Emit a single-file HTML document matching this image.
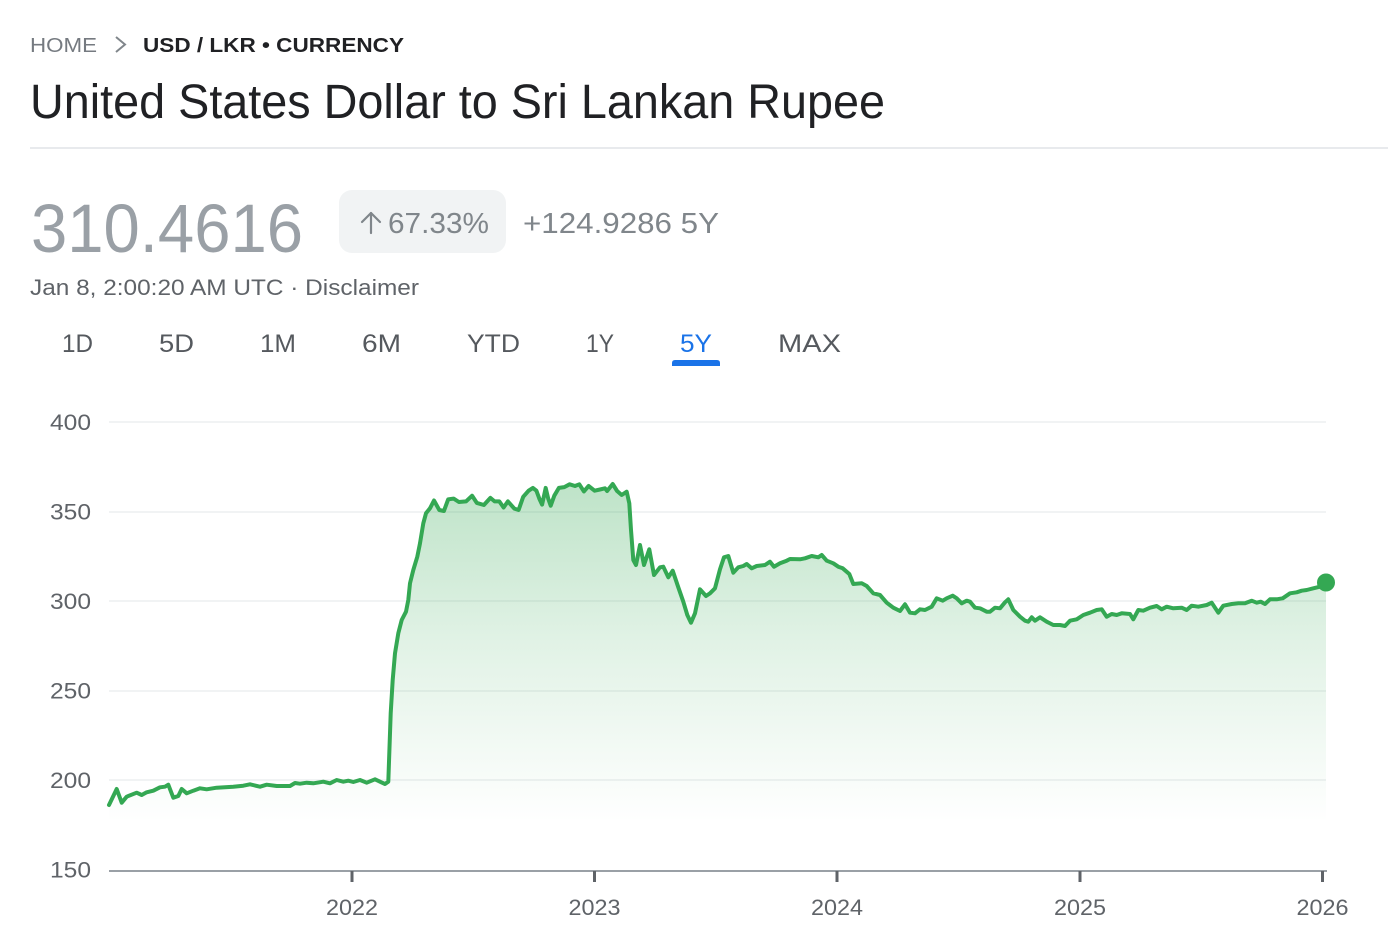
<!DOCTYPE html>
<html>
<head>
<meta charset="utf-8">
<style>
  html, body { margin: 0; padding: 0; background: #ffffff; }
  body { width: 1388px; height: 948px; overflow: hidden; }
  svg { display: block; }
  text { font-family: "Liberation Sans", "DejaVu Sans", sans-serif; }
</style>
</head>
<body>
<svg width="1388" height="948" viewBox="0 0 1388 948" xmlns="http://www.w3.org/2000/svg">
  <defs>
    <linearGradient id="fillg" gradientUnits="userSpaceOnUse" x1="0" y1="484" x2="0" y2="822">
      <stop offset="0" stop-color="#34a853" stop-opacity="0.32"/>
      <stop offset="0.46" stop-color="#34a853" stop-opacity="0.15"/>
      <stop offset="1" stop-color="#34a853" stop-opacity="0"/>
    </linearGradient>
  </defs>
  <rect x="0" y="0" width="1388" height="948" fill="#ffffff"/>

  <!-- Breadcrumb -->
  <text x="30" y="52" font-size="20" fill="#757a80" textLength="67" lengthAdjust="spacingAndGlyphs">HOME</text>
  <polyline points="116,37 125,44.5 116,52" fill="none" stroke="#80868b" stroke-width="2"/>
  <text x="143" y="52" font-size="20" fill="#202124" font-weight="bold" textLength="261" lengthAdjust="spacingAndGlyphs">USD / LKR • CURRENCY</text>

  <!-- Title -->
  <text x="30" y="118" font-size="48" fill="#202124" textLength="855" lengthAdjust="spacingAndGlyphs">United States Dollar to Sri Lankan Rupee</text>

  <!-- Divider -->
  <rect x="30" y="147" width="1358" height="2" fill="#e8eaed"/>

  <!-- Price -->
  <text x="31" y="252" font-size="69" fill="#9aa0a6" textLength="272" lengthAdjust="spacingAndGlyphs">310.4616</text>

  <!-- Badge -->
  <rect x="339" y="190" width="167" height="63" rx="13" ry="13" fill="#f1f3f4"/>
  <g stroke="#80868b" stroke-width="2.2" fill="none" stroke-linecap="round" stroke-linejoin="round">
    <line x1="371" y1="213" x2="371" y2="233"/>
    <polyline points="362,222 371,213 380,222"/>
  </g>
  <text x="388" y="233" font-size="29" fill="#80868b" textLength="101" lengthAdjust="spacingAndGlyphs">67.33%</text>
  <text x="523" y="233" font-size="29" fill="#80868b" textLength="196" lengthAdjust="spacingAndGlyphs">+124.9286 5Y</text>

  <!-- Date line -->
  <text x="30" y="295" font-size="22" fill="#5f6368" textLength="389" lengthAdjust="spacingAndGlyphs">Jan 8, 2:00:20 AM UTC · Disclaimer</text>

  <!-- Tabs -->
  <g font-size="25" fill="#55595e">
    <text x="62" y="352" textLength="31" lengthAdjust="spacingAndGlyphs">1D</text>
    <text x="159" y="352" textLength="35" lengthAdjust="spacingAndGlyphs">5D</text>
    <text x="260" y="352" textLength="36" lengthAdjust="spacingAndGlyphs">1M</text>
    <text x="362" y="352" textLength="39" lengthAdjust="spacingAndGlyphs">6M</text>
    <text x="467" y="352" textLength="53" lengthAdjust="spacingAndGlyphs">YTD</text>
    <text x="586" y="352" textLength="28" lengthAdjust="spacingAndGlyphs">1Y</text>
    <text x="680" y="352" textLength="32" lengthAdjust="spacingAndGlyphs" fill="#1a73e8">5Y</text>
    <text x="778" y="352" textLength="63" lengthAdjust="spacingAndGlyphs">MAX</text>
  </g>
  <path d="M672,366 L672,363 Q672,360 675,360 L717,360 Q720,360 720,363 L720,366 Z" fill="#1a73e8"/>

  <!-- Gridlines -->
  <g fill="#f1f3f4">
    <rect x="109" y="421" width="1217" height="2"/>
    <rect x="109" y="511" width="1217" height="2"/>
    <rect x="109" y="600" width="1217" height="2"/>
    <rect x="109" y="690" width="1217" height="2"/>
    <rect x="109" y="779" width="1217" height="2"/>
  </g>

  <!-- Y labels -->
  <g font-size="22" fill="#5f6368">
    <text x="50" y="430" textLength="41" lengthAdjust="spacingAndGlyphs">400</text>
    <text x="50" y="519.5" textLength="41" lengthAdjust="spacingAndGlyphs">350</text>
    <text x="50" y="609" textLength="41" lengthAdjust="spacingAndGlyphs">300</text>
    <text x="50" y="698.5" textLength="41" lengthAdjust="spacingAndGlyphs">250</text>
    <text x="50" y="788" textLength="41" lengthAdjust="spacingAndGlyphs">200</text>
    <text x="50" y="877.5" textLength="41" lengthAdjust="spacingAndGlyphs">150</text>
  </g>

  <!-- Fill -->
  <polygon fill="url(#fillg)" points="109,870 109,805 116.7,789 121.7,802.7 126.7,796.7 136.7,792.7 141.7,795 146.7,792.3 153.3,790.7 160,787.3 165,786.7 168.3,784.7 173.3,797.7 178.3,796 181.7,789 186.7,793.3 193.3,790.7 200,788.3 206.7,789.3 216.7,787.7 233.3,786.7 243.3,785.7 250,784.3 260,786.7 266.7,784.7 276.7,786 290,786 295,783 300,783.7 306.7,782.7 313.3,783.3 323.3,781.7 330,783.3 336.7,780 343.3,781.7 348.3,780.7 353.3,782 360,780 366.7,782.7 375,779.3 380,781.7 385,784 388.3,781.7 390.7,713.3 392.7,680 395,653.3 398.3,633.3 401.7,620 406,611.7 408.3,600 410,583.3 413.3,570 417.3,556.7 420,543.3 423.3,523.3 426,513.3 430,508.3 434,500.5 439.3,510 443.9,511 448.2,499.3 453.6,498.6 458.9,502 466,501.4 472.1,495.7 476.8,502.9 483.9,505 490.4,497.9 494.6,501.4 499.3,501.4 503.6,507.5 507.9,501.4 514.3,508.6 518.6,510 523.2,496.8 528.6,490.7 532.9,487.9 536.4,490.7 539.3,498.6 542.1,504.6 545.7,487.9 548.2,498.6 550.7,505.7 554.3,495.7 558.9,487.9 564.3,487.1 569.6,484.3 575,486 579.3,484.3 583.9,491.4 588.6,486 594.6,490.7 600,489.5 605,488.3 607.1,491 612.7,484 617.1,491 621.7,495 626.7,491.7 629.3,503.3 631,530 633.3,560 636,565 640,545 644,565 649.3,549.3 654,575 660,567.3 663.3,566.7 668.3,577.3 672.7,570.7 678.3,587.3 683.3,601.7 687.3,615 691,622.7 695,613.3 700,589.3 706,596 710,593.3 715,588.3 720,569.3 724,557.3 728.3,556 733.3,572.7 738.3,567.3 743.3,566 746.7,564 751.7,568.3 756.7,566 765,565 770,561.7 774,566.7 780,563.3 786.7,560.7 790,559 800,559.3 805,558.3 811.7,556 818.3,557.3 821.7,555 826.7,560.7 833.3,563.3 838.3,566.7 842.7,568.3 849.3,574 853.3,584 861.7,583.3 866.7,586 873.3,593.3 880,595 886.7,602.7 893.3,607.7 900,611 905,604.3 910,612.7 915,613.3 920,609.3 925,610 931.7,606.7 936.7,598.3 942.7,600.7 946.7,598.3 952.7,595.7 956.7,598.3 961.7,603.3 966.7,600.7 970,601.7 975,607.7 980,608.3 986.7,611.7 990,611.7 995,607.7 1000,608.3 1005,602.3 1008.3,599.3 1013.3,610 1020,616.7 1025,620.7 1028.3,621.7 1031.7,617.3 1035,620.7 1040,617.3 1046.7,621.7 1053.3,625 1060,625 1065,626 1070,620.7 1076.7,619.3 1083.3,615 1090,612.7 1096.7,610 1101.7,609.3 1106.7,616.7 1111.7,614 1116.7,615 1121.7,613.3 1130,614 1133.3,619.3 1138.3,610 1143.3,610.7 1150,607.7 1156.7,606 1161.7,609.3 1166.7,606.7 1173.3,608.3 1181.7,607.7 1186.7,610 1191.7,605.7 1198.3,606.7 1206.7,605 1211.7,602.7 1218.3,612.7 1223.3,605.7 1231.7,604 1238.3,603.3 1245,603.3 1251.7,600.7 1256.7,602.7 1260.7,601.7 1265,604 1270,599.3 1276.7,599.3 1282.7,598.3 1290,593.3 1296.7,592.3 1301.7,590.7 1306.7,590 1313.3,588.3 1320,586.7 1326,582.3 1326,870"/>

  <!-- Line -->
  <polyline fill="none" stroke="#34a853" stroke-width="4" stroke-linejoin="round" stroke-linecap="round" points="109,805 116.7,789 121.7,802.7 126.7,796.7 136.7,792.7 141.7,795 146.7,792.3 153.3,790.7 160,787.3 165,786.7 168.3,784.7 173.3,797.7 178.3,796 181.7,789 186.7,793.3 193.3,790.7 200,788.3 206.7,789.3 216.7,787.7 233.3,786.7 243.3,785.7 250,784.3 260,786.7 266.7,784.7 276.7,786 290,786 295,783 300,783.7 306.7,782.7 313.3,783.3 323.3,781.7 330,783.3 336.7,780 343.3,781.7 348.3,780.7 353.3,782 360,780 366.7,782.7 375,779.3 380,781.7 385,784 388.3,781.7 390.7,713.3 392.7,680 395,653.3 398.3,633.3 401.7,620 406,611.7 408.3,600 410,583.3 413.3,570 417.3,556.7 420,543.3 423.3,523.3 426,513.3 430,508.3 434,500.5 439.3,510 443.9,511 448.2,499.3 453.6,498.6 458.9,502 466,501.4 472.1,495.7 476.8,502.9 483.9,505 490.4,497.9 494.6,501.4 499.3,501.4 503.6,507.5 507.9,501.4 514.3,508.6 518.6,510 523.2,496.8 528.6,490.7 532.9,487.9 536.4,490.7 539.3,498.6 542.1,504.6 545.7,487.9 548.2,498.6 550.7,505.7 554.3,495.7 558.9,487.9 564.3,487.1 569.6,484.3 575,486 579.3,484.3 583.9,491.4 588.6,486 594.6,490.7 600,489.5 605,488.3 607.1,491 612.7,484 617.1,491 621.7,495 626.7,491.7 629.3,503.3 631,530 633.3,560 636,565 640,545 644,565 649.3,549.3 654,575 660,567.3 663.3,566.7 668.3,577.3 672.7,570.7 678.3,587.3 683.3,601.7 687.3,615 691,622.7 695,613.3 700,589.3 706,596 710,593.3 715,588.3 720,569.3 724,557.3 728.3,556 733.3,572.7 738.3,567.3 743.3,566 746.7,564 751.7,568.3 756.7,566 765,565 770,561.7 774,566.7 780,563.3 786.7,560.7 790,559 800,559.3 805,558.3 811.7,556 818.3,557.3 821.7,555 826.7,560.7 833.3,563.3 838.3,566.7 842.7,568.3 849.3,574 853.3,584 861.7,583.3 866.7,586 873.3,593.3 880,595 886.7,602.7 893.3,607.7 900,611 905,604.3 910,612.7 915,613.3 920,609.3 925,610 931.7,606.7 936.7,598.3 942.7,600.7 946.7,598.3 952.7,595.7 956.7,598.3 961.7,603.3 966.7,600.7 970,601.7 975,607.7 980,608.3 986.7,611.7 990,611.7 995,607.7 1000,608.3 1005,602.3 1008.3,599.3 1013.3,610 1020,616.7 1025,620.7 1028.3,621.7 1031.7,617.3 1035,620.7 1040,617.3 1046.7,621.7 1053.3,625 1060,625 1065,626 1070,620.7 1076.7,619.3 1083.3,615 1090,612.7 1096.7,610 1101.7,609.3 1106.7,616.7 1111.7,614 1116.7,615 1121.7,613.3 1130,614 1133.3,619.3 1138.3,610 1143.3,610.7 1150,607.7 1156.7,606 1161.7,609.3 1166.7,606.7 1173.3,608.3 1181.7,607.7 1186.7,610 1191.7,605.7 1198.3,606.7 1206.7,605 1211.7,602.7 1218.3,612.7 1223.3,605.7 1231.7,604 1238.3,603.3 1245,603.3 1251.7,600.7 1256.7,602.7 1260.7,601.7 1265,604 1270,599.3 1276.7,599.3 1282.7,598.3 1290,593.3 1296.7,592.3 1301.7,590.7 1306.7,590 1313.3,588.3 1320,586.7 1326,582.3"/>
  <circle cx="1326" cy="582.5" r="9" fill="#34a853"/>

  <!-- X axis -->
  <rect x="109" y="870" width="1218" height="2" fill="#9aa0a6"/>
  <g fill="#5f6368">
    <rect x="350.5" y="871" width="3" height="11"/>
    <rect x="593" y="871" width="3" height="11"/>
    <rect x="835.5" y="871" width="3" height="11"/>
    <rect x="1078.5" y="871" width="3" height="11"/>
    <rect x="1321" y="871" width="3" height="11"/>
  </g>
  <g font-size="22" fill="#5f6368">
    <text x="326" y="915" textLength="52" lengthAdjust="spacingAndGlyphs">2022</text>
    <text x="568.5" y="915" textLength="52" lengthAdjust="spacingAndGlyphs">2023</text>
    <text x="811" y="915" textLength="52" lengthAdjust="spacingAndGlyphs">2024</text>
    <text x="1054" y="915" textLength="52" lengthAdjust="spacingAndGlyphs">2025</text>
    <text x="1296.5" y="915" textLength="52" lengthAdjust="spacingAndGlyphs">2026</text>
  </g>
</svg>
</body>
</html>
